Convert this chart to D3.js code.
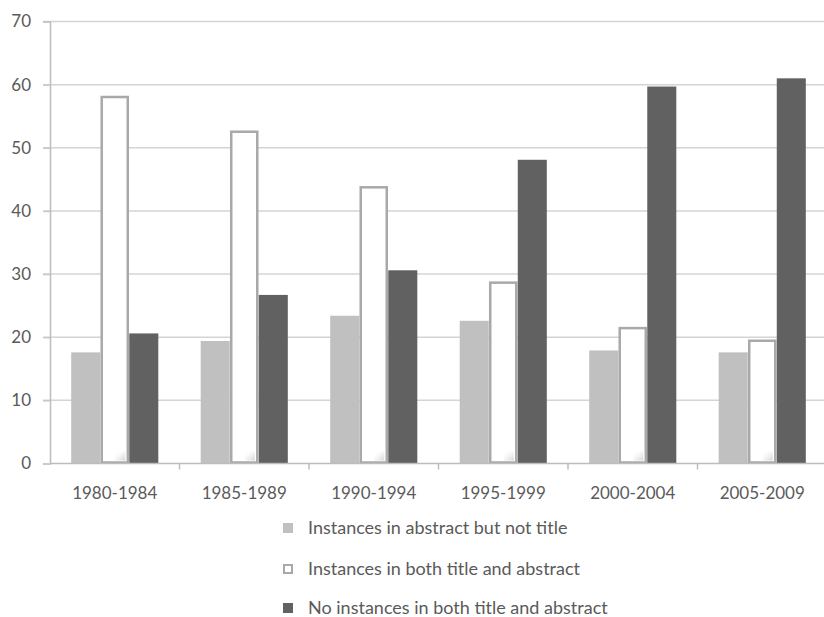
<!DOCTYPE html>
<html>
<head>
<meta charset="utf-8">
<script src="https://cdn.jsdelivr.net/npm/d3@7/dist/d3.min.js"></script>
<style>
  html, body { margin: 0; padding: 0; background: #fff; }
  svg { display: block; }
</style>
</head>
<body>
<svg id="chart" width="824" height="617"></svg>
<script>
const categories = ["1980-1984", "1985-1989", "1990-1994", "1995-1999", "2000-2004", "2005-2009"];
const seriesNames = [
  "Instances in abstract but not title",
  "Instances in both title and abstract",
  "No instances in both title and abstract"
];
const abstractNotTitle = [17.6, 19.4, 23.4, 22.6, 17.9, 17.6];
const bothTitleAbstract = [58.2, 52.7, 43.9, 28.8, 21.6, 19.6];
const noInstances = [20.6, 26.7, 30.6, 48.1, 59.7, 61.0];
const yTicks = [0, 10, 20, 30, 40, 50, 60, 70];

const seriesValues = [abstractNotTitle, bothTitleAbstract, noInstances];
const fills = ["#c0c0c0", "#ffffff", "#616161"];
const strokes = ["none", "#a9a9a9", "none"];

const svg = d3.select("#chart");
const plotLeft = 50, plotRight = 827, plotTop = 21.5, plotBottom = 463.5;
const font = "Lato, 'Liberation Sans', sans-serif";
const textColor = "#5a5a5a";

const y = d3.scaleLinear().domain([0, 70]).range([plotBottom, plotTop]);
const x0 = d3.scaleBand().domain(categories).range([plotLeft, plotRight]).padding(0);
const x1 = d3.scaleBand().domain(d3.range(3)).range([0, x0.bandwidth()])
  .paddingInner(0).paddingOuter(0.73);

// gridlines
svg.append("g").selectAll("line").data(yTicks.filter(t => t > 0)).join("line")
  .attr("x1", plotLeft - 7).attr("x2", 824)
  .attr("y1", d => y(d)).attr("y2", d => y(d))
  .attr("stroke", "#d4d4d4").attr("stroke-width", 1.5);

// y axis
const yAxis = d3.axisLeft(y).tickValues(yTicks).tickSize(7).tickPadding(12);
const gy = svg.append("g").attr("transform", `translate(${plotLeft},0)`).call(yAxis);
gy.select(".domain").attr("stroke", "#bdbdbd").attr("stroke-width", 1.5);
gy.selectAll(".tick line").attr("stroke", "#c8c8c8").attr("stroke-width", 1.5);
gy.selectAll(".tick text").attr("fill", textColor).style("font-family", font).style("font-size", "17px");

// bars
const defs = svg.append("defs");
const grad = defs.append("linearGradient").attr("id", "shade")
  .attr("x1", "0").attr("y1", "0").attr("x2", "1").attr("y2", "1");
grad.append("stop").attr("offset", "0%").attr("stop-color", "#ffffff").attr("stop-opacity", 0);
grad.append("stop").attr("offset", "100%").attr("stop-color", "#c8c8c8").attr("stop-opacity", 0.8);

const groups = svg.append("g").selectAll("g").data(categories).join("g")
  .attr("transform", d => `translate(${x0(d)},0)`);

seriesValues.forEach((vals, si) => {
  groups.append("rect")
    .attr("x", (d, i) => x1(si) + (si === 1 ? 1.5 : 0))
    .attr("width", x1.bandwidth() - (si === 1 ? 3 : 0))
    .attr("y", (d, i) => y(vals[i]) + (si === 1 ? 1 : 0))
    .attr("height", (d, i) => plotBottom - y(vals[i]) - (si === 1 ? 2 : 0))
    .attr("fill", fills[si])
    .attr("stroke", strokes[si])
    .attr("stroke-width", si === 1 ? 2.5 : 0);
  if (si === 1) {
    groups.append("rect")
      .attr("x", x1(si) + x1.bandwidth() - 14)
      .attr("width", 10)
      .attr("y", plotBottom - 12)
      .attr("height", 9)
      .attr("fill", "url(#shade)");
  }
});

// x axis
const gx = svg.append("g").attr("transform", `translate(0,${plotBottom})`);
gx.append("line").attr("x1", plotLeft).attr("x2", 824).attr("y1", 0).attr("y2", 0)
  .attr("stroke", "#bdbdbd").attr("stroke-width", 1.5);
gx.selectAll("line.tk").data(categories.slice(1)).join("line").attr("class", "tk")
  .attr("x1", d => x0(d)).attr("x2", d => x0(d)).attr("y1", 0).attr("y2", 6)
  .attr("stroke", "#bdbdbd").attr("stroke-width", 1.5);
gx.selectAll("text.lbl").data(categories).join("text").attr("class", "lbl")
  .attr("x", d => x0(d) + x0.bandwidth() / 2)
  .attr("y", 35)
  .attr("text-anchor", "middle")
  .attr("fill", textColor)
  .style("font-family", font).style("font-size", "17px")
  .text(d => d);

// legend
const legendY = [528, 569, 608];
const lg = svg.append("g").selectAll("g").data(seriesNames).join("g")
  .attr("transform", (d, i) => `translate(283,${legendY[i]})`);
lg.append("rect")
  .attr("x", (d, i) => i === 1 ? 1 : 0).attr("y", (d, i) => i === 1 ? -4 : -5)
  .attr("width", (d, i) => i === 1 ? 8 : 10).attr("height", (d, i) => i === 1 ? 8 : 10)
  .attr("fill", (d, i) => fills[i])
  .attr("stroke", (d, i) => strokes[i])
  .attr("stroke-width", (d, i) => i === 1 ? 2 : 0);
lg.append("text")
  .attr("x", 25).attr("y", 0).attr("dy", "0.35em")
  .attr("fill", textColor)
  .style("font-family", font).style("font-size", "18px")
  .text(d => d);
</script>
</body>
</html>
